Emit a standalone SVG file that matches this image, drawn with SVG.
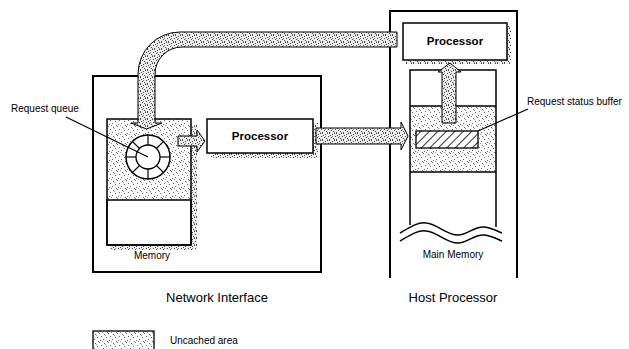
<svg xmlns="http://www.w3.org/2000/svg" width="629" height="349" viewBox="0 0 629 349">
<defs>
<pattern id="dots" width="9" height="9" patternUnits="userSpaceOnUse">
<rect width="9" height="9" fill="#fbfbfb"/>
<g fill="#6a6a6a">
<rect x="0" y="0" width="1" height="1"/>
<rect x="5" y="1" width="1" height="1"/>
<rect x="2" y="3" width="1" height="1"/>
<rect x="7" y="4" width="1" height="1"/>
<rect x="4" y="6" width="1" height="1"/>
<rect x="1" y="7" width="1" height="1"/>
<rect x="8" y="8" width="1" height="1"/>
<rect x="6" y="2" width="1" height="1" fill="#9a9a9a"/>
<rect x="3" y="8" width="1" height="1" fill="#9a9a9a"/>
</g>
</pattern>
<pattern id="dense" width="7" height="7" patternUnits="userSpaceOnUse">
<rect width="7" height="7" fill="#ececec"/>
<g fill="#4a4a4a">
<rect x="0" y="0" width="1" height="1"/>
<rect x="3" y="1" width="1" height="1"/>
<rect x="5" y="0" width="1" height="1"/>
<rect x="1" y="2" width="1" height="1"/>
<rect x="6" y="3" width="1" height="1"/>
<rect x="2" y="4" width="1" height="1"/>
<rect x="4" y="5" width="1" height="1"/>
<rect x="0" y="6" width="1" height="1"/>
<rect x="5" y="6" width="1" height="1" fill="#888"/>
<rect x="3" y="3" width="1" height="1" fill="#888"/>
</g>
</pattern>
<pattern id="hatch" width="6" height="6" patternUnits="userSpaceOnUse" patternTransform="rotate(45)">
<rect width="6" height="6" fill="#fff"/>
<line x1="0" y1="0" x2="0" y2="6" stroke="#000" stroke-width="1.6"/>
</pattern>
</defs>
<style>
.box{fill:none;stroke:#000;stroke-width:2}
.thin{fill:none;stroke:#000;stroke-width:1.5}
.wbox{fill:#fff;stroke:#000;stroke-width:1.5}
.shadow{fill:url(#dense);stroke:none}
.arrow{fill:url(#dense);stroke:#000;stroke-width:1}
.t{font-family:"Liberation Sans",Arial,sans-serif;fill:#000}
.s{font-size:10px}
.m{font-size:13px}
.b{font-size:11.5px;font-weight:bold}
</style>

<g id="network-interface">
<rect class="box" x="93" y="76" width="228" height="196"/>
<text class="t m" x="217" y="302" text-anchor="middle">Network Interface</text>
</g>

<g id="memory">
<rect class="shadow" x="191" y="125" width="6" height="125"/>
<rect class="shadow" x="110" y="245" width="87" height="5"/>
<rect x="107" y="119" width="84" height="81" fill="url(#dots)"/>
<rect class="wbox" x="107" y="200" width="84" height="45"/>
<rect class="thin" x="107" y="119" width="84" height="126"/>
<text class="t s" x="152" y="259" text-anchor="middle">Memory</text>
</g>

<g id="request-queue">
<circle cx="148" cy="157" r="22" fill="#fff" stroke="#000" stroke-width="1.5"/>
<circle cx="148" cy="157" r="12" fill="#fff" stroke="#000" stroke-width="1.3"/>
<g stroke="#000" stroke-width="1.2">
<line x1="148" y1="145" x2="148" y2="135"/>
<line x1="148" y1="169" x2="148" y2="179"/>
<line x1="136" y1="157" x2="126" y2="157"/>
<line x1="160" y1="157" x2="170" y2="157"/>
<line x1="156.5" y1="148.5" x2="163.6" y2="141.4"/>
<line x1="139.5" y1="148.5" x2="132.4" y2="141.4"/>
<line x1="156.5" y1="165.5" x2="163.6" y2="172.6"/>
<line x1="139.5" y1="165.5" x2="132.4" y2="172.6"/>
</g>
<line x1="66" y1="117" x2="148" y2="157" stroke="#000" stroke-width="1.2"/>
<text class="t s" x="11" y="112">Request queue</text>
</g>

<g id="ni-processor">
<rect class="shadow" x="313" y="123" width="5" height="35"/>
<rect class="shadow" x="211" y="153" width="107" height="5"/>
<rect class="wbox" x="207" y="119" width="106" height="34"/>
<text class="t b" x="260" y="140" text-anchor="middle">Processor</text>
</g>

<g id="host-processor">
<path class="box" d="M390,278 V11 H517 V278"/>
<text class="t m" x="453" y="302" text-anchor="middle">Host Processor</text>
</g>

<g id="host-cpu">
<rect class="shadow" x="507" y="26" width="4" height="38"/>
<rect class="shadow" x="406" y="60" width="105" height="4"/>
<rect class="wbox" x="403" y="23" width="104" height="37"/>
<text class="t b" x="455" y="45" text-anchor="middle">Processor</text>
</g>

<g id="main-memory">
<rect x="410" y="106" width="86" height="66" fill="url(#dots)"/>
<path class="thin" d="M410,225 V70 H496 V227 M410,106 H496 M410,172 H496"/>
<rect x="416" y="131" width="62" height="17" fill="url(#hatch)" stroke="#000" stroke-width="1.3"/>
<path class="thin" d="M400,233 C412,226 418,222 426,223 C438,224 446,235 458,235 C468,235 474,226 484,227 C492,228 497,231 502,233"/>
<path class="thin" d="M400,241 C412,234 418,230 426,231 C438,232 446,243 458,243 C468,243 474,234 484,235 C492,236 497,239 502,241"/>
<text class="t s" x="453" y="258" text-anchor="middle">Main Memory</text>
<line x1="478" y1="131" x2="528" y2="109" stroke="#000" stroke-width="1.2"/>
<text class="t s" x="527" y="105">Request status buffer</text>
</g>

<g id="legend">
<rect x="93" y="331" width="61" height="30" fill="url(#dots)" stroke="#000" stroke-width="1.3"/>
<text class="t s" x="170" y="344">Uncached area</text>
</g>

<g id="connectors">
<path class="arrow" d="M397,32 H180 A42,42 0 0 0 138,74 V123 H131 L146.5,129 L162,123 H155 V74 A27,27 0 0 1 182,47 H397 Z"/>
<path class="arrow" d="M178,136 H197 V130 L205,141 L197,152 V146 H178 Z"/>
<path class="arrow" d="M316,128 H401 V122 L408,136 L401,150 V144 H316 Z"/>
<path class="arrow" d="M442,123 V72 H438 L450,63 L461,72 H456 V123 Z"/>
</g>
</svg>
